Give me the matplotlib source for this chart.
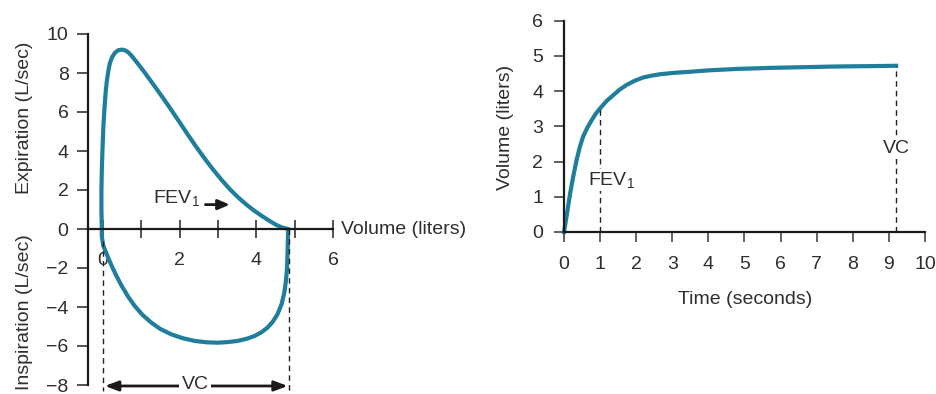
import matplotlib.pyplot as plt

plt.rcParams['font.family'] = ['Liberation Sans', 'DejaVu Sans']
plt.rcParams['mathtext.default'] = 'regular'

# flow-volume loop (left)
exp_volume = [-0.03, -0.04, -0.04, -0.03, -0.01, 0.01, 0.04, 0.07, 0.10, 0.14, 0.18, 0.24,
              0.31, 0.39, 0.49, 0.58, 0.66, 0.74, 0.83, 0.95, 1.09, 1.30, 1.52, 1.76,
              2.00, 2.20, 2.43, 2.65, 2.86, 3.08, 3.30, 3.52, 3.73, 3.95, 4.16, 4.34,
              4.51, 4.67, 4.83]
exp_flow = [0.0, 1.0, 2.0, 3.0, 4.2, 5.2, 6.2, 7.0, 7.57, 8.1, 8.5, 8.82,
            9.03, 9.16, 9.2, 9.16, 9.06, 8.9, 8.68, 8.38, 8.02, 7.45, 6.85, 6.17,
            5.47, 4.88, 4.22, 3.62, 3.08, 2.55, 2.06, 1.63, 1.27, 0.93, 0.65, 0.42,
            0.22, 0.08, 0.0]
insp_volume = [4.83, 4.82, 4.81, 4.80, 4.77, 4.73, 4.66, 4.55, 4.43, 4.29, 4.13, 3.95,
               3.75, 3.51, 3.25, 3.00, 2.70, 2.39, 2.08, 1.78, 1.50, 1.26, 1.03, 0.83,
               0.65, 0.49, 0.35, 0.23, 0.11, 0.01, -0.03, -0.03]
insp_flow = [0.0, -0.87, -1.5, -2.07, -2.7, -3.26, -3.85, -4.38, -4.75, -5.06, -5.3, -5.49,
             -5.63, -5.74, -5.8, -5.83, -5.81, -5.74, -5.6, -5.4, -5.13, -4.8, -4.4, -3.95,
             -3.45, -2.92, -2.4, -1.9, -1.35, -0.87, -0.4, 0.0]

# volume-time curve (right)
time_s = [0.0, 0.08, 0.17, 0.26, 0.35, 0.44, 0.53, 0.65, 0.77, 0.88, 1.0, 1.18, 1.37,
          1.55, 1.74, 1.97, 2.2, 2.43, 2.66, 3.05, 3.49, 4.0, 4.78, 5.71, 6.63, 7.55,
          8.48, 9.2]
volume_l = [0.0, 0.5, 1.1, 1.6, 2.05, 2.42, 2.71, 2.97, 3.18, 3.36, 3.51, 3.72, 3.89,
            4.05, 4.18, 4.3, 4.39, 4.44, 4.48, 4.52, 4.55, 4.59, 4.63, 4.66, 4.68, 4.70,
            4.71, 4.72]

fev1_time, fev1_volume = 1.0, 3.51
vc_time, vc_volume = 9.2, 4.72
loop_vc_left, loop_vc_right = 0.0, 4.85

line_color = '#1f7e9c'
text_color = '#2e2e2e'
dash = (0, (4, 3))
fs = 14

W, H = 937, 394
fig = plt.figure(figsize=(W / 100, H / 100), dpi=100)

# ---- left: flow-volume loop ----
ax1 = fig.add_axes([88 / W, (H - 390.85) / H, 245 / W, (390.85 - 28.15) / H])
ax1.set_xlim(-0.39, 6.0)
ax1.set_ylim(-8.3, 10.3)
ax1.plot(exp_volume, exp_flow, color=line_color, lw=3, solid_joinstyle='round',
         solid_capstyle='round', clip_on=False)
ax1.plot(insp_volume, insp_flow, color=line_color, lw=3, solid_joinstyle='round',
         solid_capstyle='round', clip_on=False)

for s in ['top', 'right']:
    ax1.spines[s].set_visible(False)
ax1.spines['bottom'].set_position(('data', 0))
ax1.spines['bottom'].set_bounds(-0.39, 6.0)
ax1.spines['left'].set_bounds(-8, 10)
for s in ['bottom', 'left']:
    ax1.spines[s].set_linewidth(1.6)
    ax1.spines[s].set_color('#1a1a1a')

ax1.set_xticks([0, 2, 4, 6])
ax1.set_xticks([1, 3, 5], minor=True)
ax1.set_yticks(range(-8, 11, 2))
ax1.tick_params(axis='x', which='both', direction='inout', length=13, width=1.3,
                color='#444444', pad=10, labelsize=fs, labelcolor=text_color)
ax1.tick_params(axis='y', direction='out', length=8, width=1.3, color='#444444',
                pad=6, labelsize=fs, labelcolor=text_color)

ax1.text(6.2, 0, 'Volume (liters)', ha='left', va='center', fontsize=fs, color=text_color)
fig.text(25 / W, 1 - 118 / H, 'Expiration (L/sec)', rotation=90, ha='center', va='center',
         fontsize=fs, color=text_color)
fig.text(25 / W, 1 - 312 / H, 'Inspiration (L/sec)', rotation=90, ha='center', va='center',
         fontsize=fs, color=text_color)

# FEV1 label and arrow
ax1.text(1.3, 1.6, 'FEV$_1$', ha='left', va='center', fontsize=fs, color=text_color)
ax1.annotate('', xy=(3.38, 1.25), xytext=(2.6, 1.25),
             arrowprops=dict(arrowstyle='-|>,head_length=0.7,head_width=0.3',
                             color='#1a1a1a', lw=2))

# VC dashed lines and double arrow
ax1.plot([loop_vc_left, loop_vc_left], [-0.6, -8.3], color='#222222', lw=1,
         ls=dash, clip_on=False)
ax1.plot([loop_vc_right, loop_vc_right], [0, -8.3], color='#222222', lw=1,
         ls=dash, clip_on=False)
ax1.annotate('', xy=(0.05, -8.05), xytext=(4.82, -8.05),
             arrowprops=dict(arrowstyle='<|-|>,head_length=0.8,head_width=0.3',
                             color='#1a1a1a', lw=2, shrinkA=0, shrinkB=0),
             annotation_clip=False)
ax1.text(2.4, -7.95, 'VC', ha='center', va='center', fontsize=fs, color=text_color,
         bbox=dict(fc='white', ec='none', pad=1.5), clip_on=False)

# ---- right: volume-time curve ----
ax2 = fig.add_axes([564 / W, (H - 232) / H, 361 / W, 211.3 / H])
ax2.set_xlim(0, 10)
ax2.set_ylim(0, 6)
ax2.plot(time_s, volume_l, color=line_color, lw=3, solid_joinstyle='round', clip_on=False)

for s in ['top', 'right']:
    ax2.spines[s].set_visible(False)
for s in ['bottom', 'left']:
    ax2.spines[s].set_linewidth(1.6)
    ax2.spines[s].set_color('#1a1a1a')

ax2.set_xticks(range(0, 11))
ax2.set_yticks(range(0, 7))
ax2.tick_params(axis='x', direction='out', length=7, width=1.3, color='#555555',
                pad=10, labelsize=fs, labelcolor=text_color)
ax2.tick_params(axis='y', direction='out', length=7, width=1.3, color='#555555',
                pad=8, labelsize=fs, labelcolor=text_color)

fig.text(745 / W, 1 - 299 / H, 'Time (seconds)', ha='center', va='center',
         fontsize=fs, color=text_color)
fig.text(506 / W, 1 - 127 / H, 'Volume (liters)', rotation=90, ha='center', va='center',
         fontsize=fs, color=text_color)

ax2.plot([fev1_time, fev1_time], [0, fev1_volume], color='#222222', lw=1, ls=dash)
ax2.plot([vc_time, vc_time], [0, vc_volume], color='#222222', lw=1, ls=dash)
ax2.text(0.66, 1.48, 'FEV$_1$', ha='left', va='center', fontsize=fs, color=text_color,
         bbox=dict(fc='white', ec='none', pad=1))
ax2.text(9.22, 2.36, 'VC', ha='center', va='center', fontsize=fs, color=text_color,
         bbox=dict(fc='white', ec='none', pad=1))

fig.savefig('out.png', dpi=100)
